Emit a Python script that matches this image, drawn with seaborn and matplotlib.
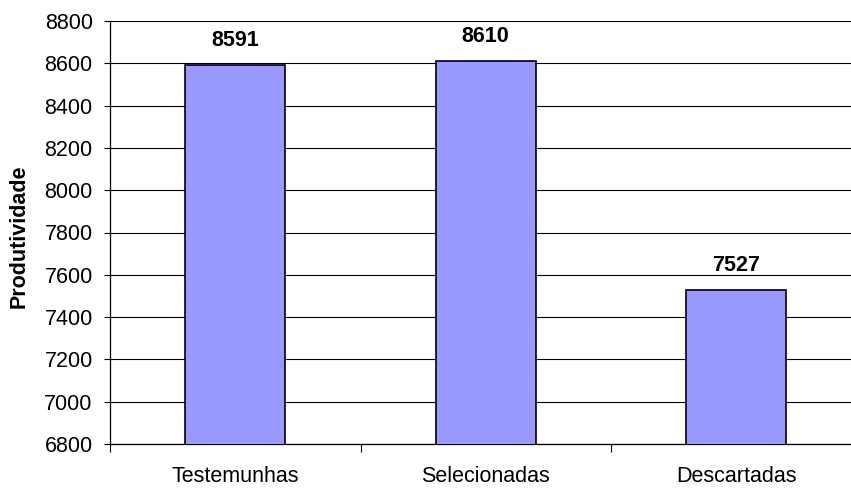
import matplotlib
matplotlib.use("Agg")
import matplotlib.pyplot as plt
import seaborn as sns
import pandas as pd

categories = ["Testemunhas", "Selecionadas", "Descartadas"]
produtividade = [8591, 8610, 7527]
y_ticks = [6800, 7000, 7200, 7400, 7600, 7800, 8000, 8200, 8400, 8600, 8800]

sns.set_theme(style="white")
plt.rcParams["font.family"] = ["Liberation Sans", "DejaVu Sans"]
plt.rcParams["text.color"] = "black"
plt.rcParams["xtick.color"] = "black"
plt.rcParams["ytick.color"] = "black"
plt.rcParams["axes.labelcolor"] = "black"

df = pd.DataFrame({"Grupo": categories, "Produtividade": produtividade})

fig = plt.figure(figsize=(8.51, 4.88), dpi=100)
ax = fig.add_axes([110 / 851, 44 / 488, 751.5 / 851, 423 / 488])

sns.barplot(data=df, x="Grupo", y="Produtividade", color="#9999FF",
            saturation=1, width=0.40, edgecolor="black", linewidth=1.2,
            ax=ax, zorder=3)

ax.set_ylim(y_ticks[0], y_ticks[-1])
ax.set_xlim(-0.5, 2.5)
ax.set_yticks(y_ticks)
ax.set_yticklabels([str(t) for t in y_ticks], fontsize=15.5)

# horizontal gridlines
ax.grid(axis="y", color="black", linewidth=0.8, zorder=0)
ax.set_axisbelow(True)

for side in ["top", "right"]:
    ax.spines[side].set_visible(False)
for side in ["left", "bottom"]:
    ax.spines[side].set_color("black")
    ax.spines[side].set_linewidth(0.9)

ax.tick_params(axis="y", direction="out", length=4.5, width=0.8,
               color="black", labelcolor="black", pad=8, left=True)
ax.tick_params(axis="x", which="major", length=0, pad=16, labelsize=15.5,
               labelcolor="black")
ax.set_xticks([-0.5, 0.5, 1.5, 2.5], minor=True)
ax.tick_params(axis="x", which="minor", direction="out", length=5.5,
               width=0.8, color="black", bottom=True)

ax.set_xlabel("")
ax.set_ylabel("Produtividade", fontsize=15.5, fontweight="bold",
              color="black")
ax.yaxis.set_label_coords(-80 / 751.5, 0.49)

for container in ax.containers:
    ax.bar_label(container, labels=[str(v) for v in produtividade],
                 padding=10, fontsize=15.5, fontweight="bold", color="black")

fig.savefig("out.png", dpi=100)
